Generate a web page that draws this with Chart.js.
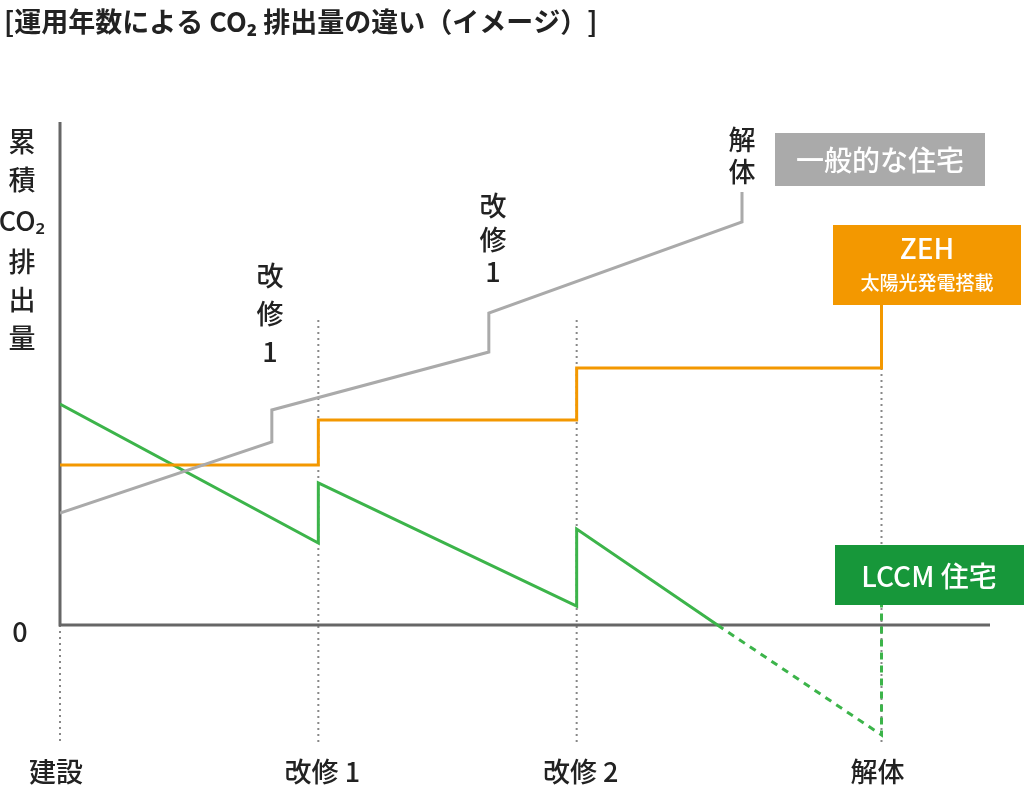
<!DOCTYPE html>
<html>
<head>
<meta charset="utf-8">
<script src="https://cdn.jsdelivr.net/npm/chart.js@4/dist/chart.umd.min.js"></script>
<style>
  body { margin: 0; background: #fff; }
  #wrap { width: 1024px; height: 802px; }
</style>
</head>
<body>
<div id="wrap"><canvas id="myChart" width="1024" height="802"></canvas></div>
<script>
// x: 建設=0, 改修1=1, 改修2=2, 解体=3.18 ; y: 累積CO2 (相対値)
const tickNames = ['建設', '改修 1', '改修 2', '解体'];
const tickXs = [0, 1, 2, 3.18];

const ippanX = [0, 0.82, 0.82, 1.66, 1.66, 2.64, 2.64];
const ippanY = [1.12, 1.83, 2.15, 2.73, 3.12, 4.03, 4.33];

const zehX = [0, 1, 1, 2, 2, 3.18, 3.18];
const zehY = [1.60, 1.60, 2.05, 2.05, 2.57, 2.57, 3.20];

const lccmX = [0, 1, 1, 2, 2, 2.545];
const lccmY = [2.21, 0.82, 1.42, 0.19, 0.96, 0];
const lccmDashX = [2.545, 3.18, 3.18];
const lccmDashY = [0, -1.10, 0.25];

// 縦の点線 (x, 上端y)
const guideX = [0, 1, 2, 3.18];
const guideTop = [0, 3.05, 3.05, 2.57];

const pts = (xs, ys) => xs.map((x, i) => ({x: x, y: ys[i]}));

const GRAY = '#aaaaaa', ORANGE = '#f39800', GREEN = '#3cb44a', DGREEN = '#17973a';
const FONT = '"Noto Sans CJK JP", "Noto Sans", sans-serif';

const decor = {
    id: 'decor',
    beforeDatasetsDraw(chart) {
        const c = chart.ctx, xs = chart.scales.x, ys = chart.scales.y;
        c.save();
        // 縦の点線
        c.strokeStyle = '#888'; c.lineWidth = 2; c.setLineDash([2, 4]);
        guideX.forEach((gx, i) => {
            c.beginPath();
            c.moveTo(xs.getPixelForValue(gx), ys.getPixelForValue(guideTop[i]));
            c.lineTo(xs.getPixelForValue(gx), ys.getPixelForValue(-1.2));
            c.stroke();
        });
        c.setLineDash([]);
        // 軸
        c.strokeStyle = '#666'; c.lineWidth = 3;
        c.beginPath();
        c.moveTo(xs.getPixelForValue(0), ys.getPixelForValue(5.03));
        c.lineTo(xs.getPixelForValue(0), ys.getPixelForValue(0));
        c.lineTo(xs.getPixelForValue(3.6), ys.getPixelForValue(0));
        c.stroke();
        c.restore();
    },
    afterDraw(chart) {
        const c = chart.ctx, xs = chart.scales.x, ys = chart.scales.y;
        c.save();
        c.fillStyle = '#222';
        c.textBaseline = 'middle';
        // タイトル
        c.font = 'bold 27px ' + FONT; c.textAlign = 'left';
        c.fillText('[運用年数による CO₂ 排出量の違い（イメージ）]', 4, 22);
        // 軸ラベル
        c.font = '500 27px ' + FONT; c.textAlign = 'center';
        const tickOff = [-4, 4, 4, -4];
        tickNames.forEach((t, i) => c.fillText(t, xs.getPixelForValue(tickXs[i]) + tickOff[i], 772));
        c.fillText('0', 20, 632);
        [['累', 142], ['積', 180], ['CO₂', 221], ['排', 262], ['出', 300], ['量', 338]]
            .forEach(a => c.fillText(a[0], 22, a[1]));
        // 注記
        [['改', 270, 276], ['修', 270, 314], ['1', 270, 352],
         ['改', 493, 206], ['修', 493, 240], ['1', 493, 272],
         ['解', 742, 140], ['体', 742, 172]].forEach(a => c.fillText(a[0], a[1], a[2]));
        // 凡例ボックス
        c.fillStyle = GRAY; c.fillRect(775, 133, 210, 53);
        c.fillStyle = ORANGE; c.fillRect(833, 225, 188, 80);
        c.fillStyle = DGREEN; c.fillRect(835, 545, 189, 60);
        c.fillStyle = '#fff';
        c.font = '500 28px ' + FONT;
        c.fillText('一般的な住宅', 880, 160);
        c.fillText('ZEH', 927, 248);
        c.fillText('LCCM 住宅', 929, 576);
        c.font = '500 19px ' + FONT;
        c.fillText('太陽光発電搭載', 927, 283);
        c.restore();
    }
};

new Chart(document.getElementById('myChart').getContext('2d'), {
    type: 'line',
    data: {
        datasets: [
            { data: pts(ippanX, ippanY), borderColor: GRAY, borderWidth: 3 },
            { data: pts(zehX, zehY), borderColor: ORANGE, borderWidth: 3 },
            { data: pts(lccmX, lccmY), borderColor: GREEN, borderWidth: 3 },
            { data: pts(lccmDashX, lccmDashY), borderColor: GREEN, borderWidth: 3, borderDash: [7, 6] }
        ]
    },
    options: {
        responsive: false,
        animation: false,
        layout: { padding: { left: 60, right: 34, top: 122, bottom: 47 } },
        elements: { point: { radius: 0 }, line: { tension: 0 } },
        plugins: { legend: { display: false }, tooltip: { enabled: false } },
        scales: {
            x: { type: 'linear', min: 0, max: 3.6, display: false },
            y: { type: 'linear', min: -1.3, max: 5.03, display: false }
        }
    },
    plugins: [decor]
});
</script>
</body>
</html>
